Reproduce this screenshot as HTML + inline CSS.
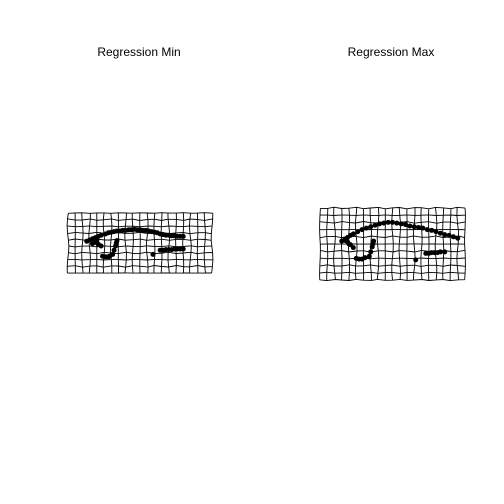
<!DOCTYPE html>
<html><head><meta charset="utf-8"><style>
html,body{margin:0;padding:0;background:#fff;}
svg{display:block;font-family:"Liberation Sans",sans-serif;}
</style></head><body>
<svg id="chart" width="504" height="504">
<rect width="504" height="504" fill="#fff"/>
<text x="139" y="56" font-size="12" text-anchor="middle">Regression Min</text>
<text x="391" y="56" font-size="12" text-anchor="middle">Regression Max</text>
<g id="pmin"></g>
<g id="pmax"></g>
</svg>
<script>
// landmark coordinates (normalized within grid box)
const minX = [0.13,0.15,0.17,0.19,0.21,0.23,0.26,0.28,0.30,0.32,0.34,0.36,0.38,0.40,0.42,0.44,0.46,0.48,0.50,0.52,0.54,0.56,0.58,0.60,0.62,0.64,0.66,0.68,0.70,0.72,0.74,0.76,0.78,0.80, 0.19,0.21,0.23,0.17,0.20, 0.34,0.335,0.33,0.32,0.31, 0.24,0.26,0.28,0.29, 0.59, 0.64,0.66,0.68,0.70,0.72,0.74,0.76,0.78,0.80];
const minY = [0.47,0.45,0.43,0.41,0.39,0.37,0.35,0.33,0.32,0.31,0.30,0.30,0.29,0.29,0.28,0.28,0.27,0.28,0.28,0.29,0.29,0.30,0.31,0.32,0.33,0.35,0.36,0.37,0.37,0.38,0.38,0.39,0.39,0.39, 0.49,0.52,0.55,0.51,0.46, 0.46,0.50,0.55,0.62,0.69, 0.72,0.73,0.73,0.72, 0.69, 0.62,0.62,0.61,0.61,0.61,0.60,0.60,0.60,0.60];
const maxX = [0.15,0.17,0.19,0.21,0.23,0.26,0.29,0.32,0.35,0.38,0.41,0.44,0.47,0.50,0.53,0.56,0.59,0.62,0.65,0.68,0.71,0.74,0.77,0.80,0.83,0.86,0.89,0.92,0.95, 0.19,0.21,0.23,0.17,0.20, 0.37,0.365,0.36,0.35,0.34, 0.25,0.27,0.29,0.31, 0.66, 0.73,0.75,0.77,0.79,0.81,0.83,0.86];
const maxY = [0.46,0.44,0.41,0.38,0.36,0.33,0.30,0.28,0.26,0.24,0.22,0.21,0.20,0.20,0.21,0.22,0.23,0.25,0.26,0.27,0.28,0.30,0.31,0.33,0.35,0.37,0.38,0.40,0.42, 0.47,0.51,0.55,0.45,0.50, 0.46,0.50,0.54,0.61,0.67, 0.70,0.71,0.71,0.69, 0.72, 0.63,0.63,0.62,0.62,0.62,0.61,0.61];
const NS='http://www.w3.org/2000/svg';
function panel(g,x0,y0,w,h,cols,rows,lx,ly,seed){
  const sx=u=>x0+u*w, sy=v=>y0+v*h;
  const jx=(i,j)=>0.9*Math.sin(i*3.7+j*5.3+seed)*Math.cos(i*1.1+seed);
  const jy=(i,j)=>0.9*Math.cos(i*4.1+j*2.9+seed)*Math.sin(j*1.7+seed);
  const P=(i,j)=>[sx(i/cols)+jx(i,j), sy(j/rows)+jy(i,j)];
  let d='';
  for(let j=0;j<=rows;j++){for(let i=0;i<=cols;i++){const p=P(i,j);d+=(i?'L':'M')+p[0].toFixed(1)+' '+p[1].toFixed(1);}}
  for(let i=0;i<=cols;i++){for(let j=0;j<=rows;j++){const p=P(i,j);d+=(j?'L':'M')+p[0].toFixed(1)+' '+p[1].toFixed(1);}}
  const path=document.createElementNS(NS,'path');
  path.setAttribute('d',d);path.setAttribute('fill','none');path.setAttribute('stroke','#000');path.setAttribute('stroke-width','0.9');
  
  
  g.appendChild(path);
  for(let k=0;k<lx.length;k++){
    const c=document.createElementNS(NS,'circle');
    c.setAttribute('cx',sx(lx[k]));c.setAttribute('cy',sy(ly[k]));c.setAttribute('r','2.5');c.setAttribute('fill','#000');
    
    
    g.appendChild(c);
  }
}
panel(document.getElementById('pmin'),68,213,144,60,20,9,minX,minY,0.3);
panel(document.getElementById('pmax'),320,208,145,72,20,10,maxX,maxY,1.1);
</script>
</body></html>
